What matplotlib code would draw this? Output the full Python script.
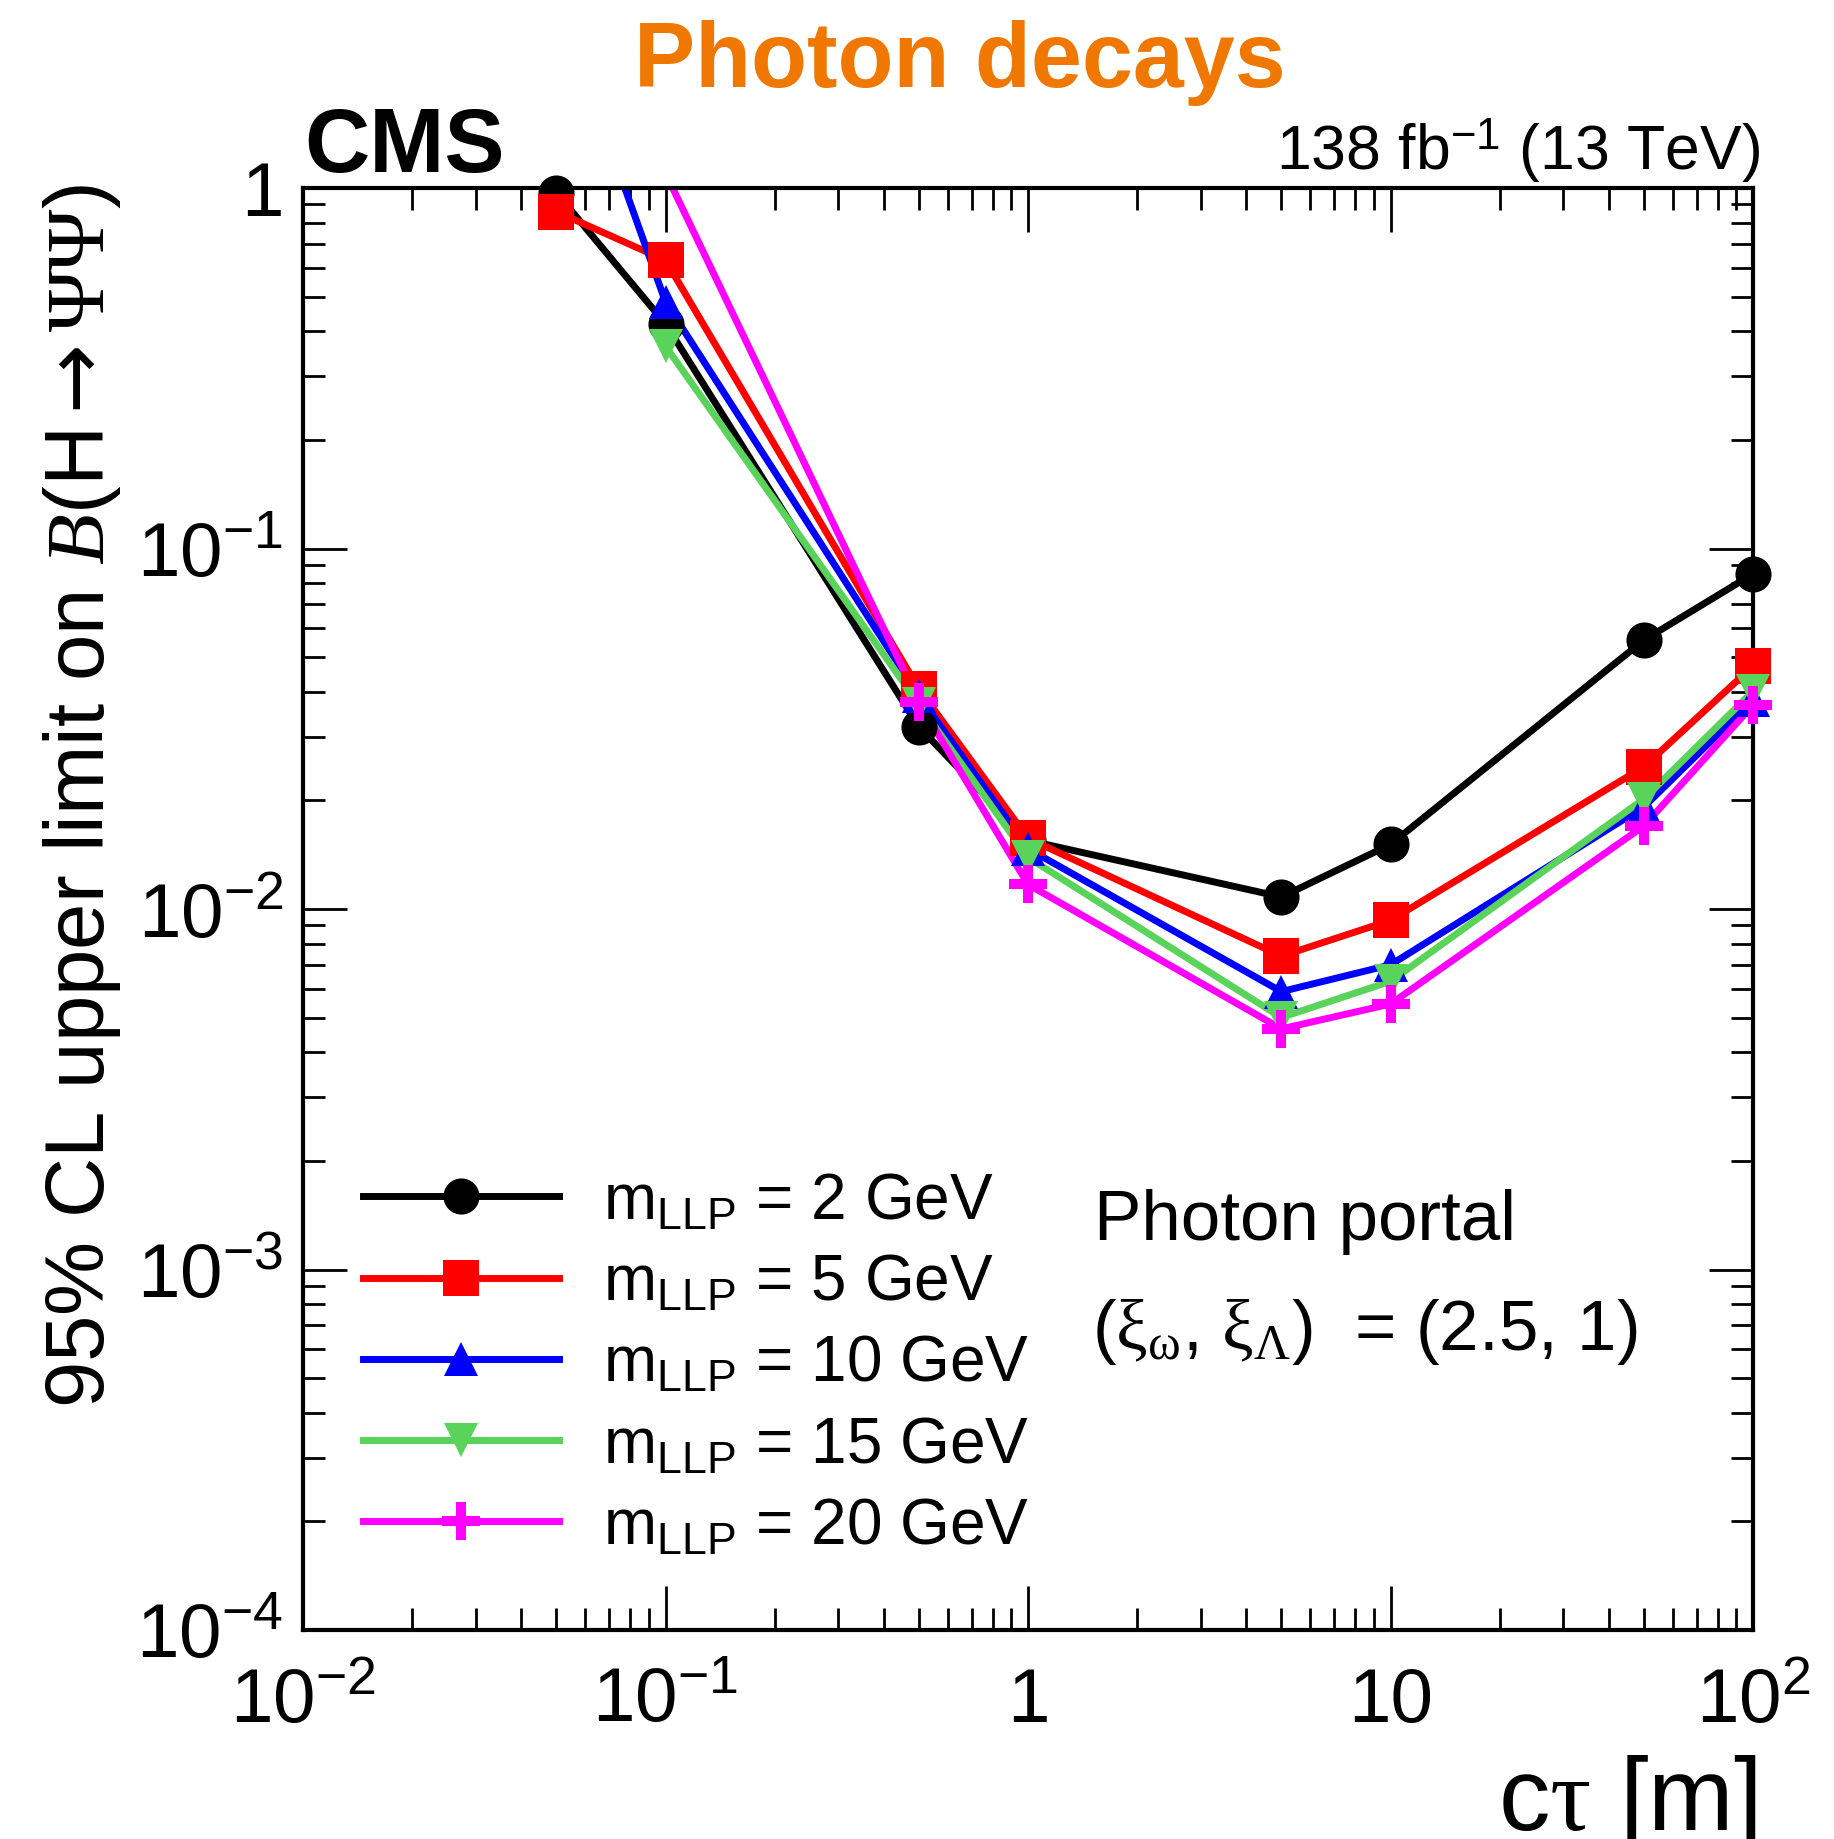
import numpy as np
import matplotlib
matplotlib.use('Agg')
import matplotlib.pyplot as plt
from matplotlib.lines import Line2D
from matplotlib.ticker import LogLocator, FuncFormatter, NullFormatter

plt.rcParams['font.family'] = ['Liberation Sans', 'DejaVu Sans']
plt.rcParams['mathtext.fontset'] = 'custom'
plt.rcParams['mathtext.rm'] = 'Liberation Sans'
plt.rcParams['mathtext.it'] = 'Liberation Serif:italic'
plt.rcParams['mathtext.bf'] = 'Liberation Sans:bold'
plt.rcParams['mathtext.cal'] = 'Liberation Serif'
plt.rcParams['mathtext.sf'] = 'DejaVu Sans'

# data
ctau = np.array([0.05, 0.1, 0.5, 1, 5, 10, 50, 100])
lim_m2 = np.array([0.97, 0.42, 0.032, 0.0155, 0.0108, 0.0151, 0.0557, 0.085])
lim_m5 = np.array([0.86, 0.63, 0.0408, 0.0157, 0.0074, 0.0093, 0.0248, 0.0472])
lim_m10 = np.array([3.4, 0.483, 0.039, 0.0147, 0.0059, 0.0070, 0.0192, 0.0380])
lim_m15 = np.array([np.nan, 0.364, 0.037, 0.0139, 0.0050, 0.0063, 0.0202, 0.0402])
lim_m20 = np.array([np.nan, 1.1, 0.0375, 0.0117, 0.00465, 0.00545, 0.0170, 0.0368])

masses = [2, 5, 10, 15, 20]
limits = [lim_m2, lim_m5, lim_m10, lim_m15, lim_m20]
colors = ['black', '#ff0000', '#0000ff', '#5ad35a', '#ff00ff']

# thin-armed cross like ROOT marker 34
a = 0.27
cross = [(-a, 1), (a, 1), (a, a), (1, a), (1, -a), (a, -a), (a, -1), (-a, -1),
         (-a, -a), (-1, -a), (-1, a), (-a, a), (-a, 1)]
markers = ['o', 's', '^', 'v', cross]
msizes = [26, 26, 25, 25, 27]

fig = plt.figure(figsize=(18.34, 18.40), dpi=100)
ax = fig.add_axes([303/1834, 1-1631/1840, 1450/1834, 1442/1840])

handles = []
for m, y, c, mk, ms in zip(masses, limits, colors, markers, msizes):
    ax.plot(ctau, y, color=c, lw=5, zorder=2)
    ok = y <= 1
    ax.plot(ctau[ok], y[ok], ls='none', marker=mk, ms=ms, color=c, mec=c, mew=0,
            clip_on=False, zorder=3)
    handles.append(Line2D([], [], color=c, lw=5, marker=mk, ms=ms, mec=c, mew=0))

ax.set_xscale('log')
ax.set_yscale('log')
ax.set_xlim(1e-2, 1e2)
ax.set_ylim(1e-4, 1)


def fmt(v, pos):
    e = int(round(np.log10(v)))
    if e == 0:
        return '1'
    if e == 1:
        return '10'
    return r'$\mathregular{10^{%d}}$' % e


for axis in (ax.xaxis, ax.yaxis):
    axis.set_major_locator(LogLocator(base=10, numticks=10))
    axis.set_minor_locator(LogLocator(base=10, subs=np.arange(2, 10), numticks=20))
    axis.set_major_formatter(FuncFormatter(fmt))
    axis.set_minor_formatter(NullFormatter())

ax.tick_params(which='both', direction='in', top=True, right=True, width=2,
               labelsize=55)
ax.tick_params(which='major', length=32)
ax.tick_params(which='minor', length=16)
ax.tick_params(axis='x', pad=26)
ax.tick_params(axis='y', pad=14)
for s in ax.spines.values():
    s.set_linewidth(3)

labels = [r'$\mathrm{m_{LLP}}$ = %d GeV' % m for m in masses]
ax.legend(handles, labels, loc='upper left', bbox_to_anchor=(0.0414, 0.318),
          frameon=False, fontsize=46, handlelength=3.07, handletextpad=0.68,
          labelspacing=0.33, borderpad=0, borderaxespad=0)

fig.text(0.5234, 1-87/1840, 'Photon decays', color='#f07800', fontsize=66,
         fontweight='bold', ha='center', va='baseline')
fig.text(304/1834, 1-172/1840, 'CMS', fontsize=65, fontweight='bold',
         ha='left', va='baseline')
fig.text(1760/1834, 1-170/1840, r'138 fb$^{-1}$ (13 TeV)', fontsize=45,
         ha='right', va='baseline')
fig.text(1094/1834, 1-1240/1840, 'Photon portal', fontsize=51, va='baseline')
fig.text(1092/1834, 1-1350/1840,
         r'($\mathcal{\xi}_{\mathcal{\omega}}$, $\mathcal{\xi}_{\mathcal{\Lambda}}$)  = (2.5, 1)',
         fontsize=51, va='baseline')
fig.text(1757/1834, 1-1830/1840, r'c$\mathcal{\tau}$ [m]', fontsize=74,
         ha='right', va='baseline')
fig.text(123/1834, 1-184/1840,
         r'95% CL upper limit on $\mathit{B}$(H$\mathsf{\rightarrow}$$\mathcal{\Psi\Psi}$)',
         fontsize=60, rotation=90, ha='right', va='top')

fig.savefig('out.png', dpi=100)
